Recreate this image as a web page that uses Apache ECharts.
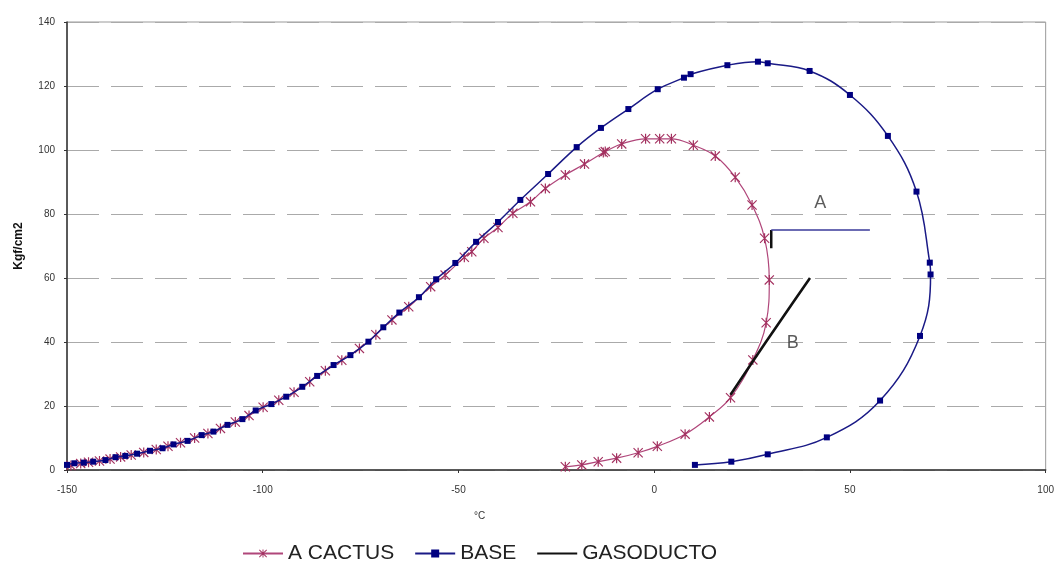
<!DOCTYPE html>
<html>
<head>
<meta charset="utf-8">
<title>Kgf/cm2 vs °C</title>
<script src="https://cdn.jsdelivr.net/npm/echarts@6/dist/echarts.min.js"></script>
<style>
    html, body { margin: 0; padding: 0; background: #fff; }
    #chart { width: 1057px; height: 563px; }
</style>
</head>
<body>
<div id="chart"></div>
<script>
// puntos [°C, Kgf/cm2]
var cactusPoints = [
    [-149, 1.4], [-146.5, 2.0], [-144.5, 2.4], [-141.7, 2.8], [-139, 3.4], [-136.3, 4.1],
    [-133.6, 4.7], [-130.4, 5.5], [-127.2, 6.4], [-124.2, 7.4], [-121, 8.5], [-117.4, 10],
    [-114, 11.4], [-110.8, 13], [-107, 15], [-103.5, 17], [-99.9, 19.6], [-95.9, 21.8],
    [-92, 24.3], [-88, 27.6], [-84, 31], [-79.8, 34.3], [-75.3, 38], [-71.1, 42.3],
    [-67, 46.9], [-62.7, 51], [-57.1, 57.3], [-53.4, 60.9], [-48.5, 66.5], [-46.6, 68.2],
    [-43.5, 72.4], [-39.9, 75.8], [-36.1, 80.2], [-31.6, 83.8], [-27.8, 88], [-22.7, 92.2],
    [-17.8, 95.6], [-13, 99.2], [-12.5, 99.5], [-8.3, 101.9], [-2.2, 103.5], [1.4, 103.5],
    [4.4, 103.5], [10, 101.5], [15.6, 98.1], [20.7, 91.5], [25, 82.8], [28.2, 72.4],
    [29.4, 59.4], [28.6, 46], [25.2, 34.4], [19.5, 22.6], [14.1, 16.6], [7.9, 11.2],
    [0.8, 7.4], [-4.1, 5.4], [-9.6, 3.7], [-14.3, 2.6], [-18.5, 1.6], [-22.7, 1.0]
];
var basePoints = [
    [-150, 1.6], [-148.1, 2.1], [-145.7, 2.3], [-143.3, 2.6], [-140.2, 3.1], [-137.6, 4.0],
    [-135.1, 4.4], [-132.1, 5.1], [-128.8, 6.0], [-125.6, 6.8], [-122.8, 8.0], [-119.2, 9.1],
    [-115.6, 10.9], [-112.6, 12.0], [-109, 14.1], [-105.2, 15.9], [-101.8, 18.6], [-97.8, 20.6],
    [-94, 22.9], [-89.9, 26], [-86.1, 29.4], [-81.9, 32.8], [-77.6, 35.9], [-73, 40.1],
    [-69.2, 44.6], [-65.1, 49.2], [-60.1, 54], [-55.7, 59.6], [-50.8, 64.7], [-45.5, 71.3],
    [-39.9, 77.5], [-34.2, 84.4], [-27.1, 92.5], [-19.8, 100.9], [-13.6, 106.9], [-6.6, 112.8],
    [0.9, 119], [7.6, 122.6], [9.3, 123.7], [18.7, 126.5], [26.5, 127.6], [29, 127.1],
    [39.7, 124.7], [50, 117.2], [59.7, 104.4], [67, 87], [70.4, 64.8], [70.6, 61.1],
    [67.9, 41.9], [57.7, 21.7], [44.1, 10.2], [29, 4.9], [19.7, 2.6], [10.4, 1.6]
];
var gasoductoPoints = [[19.5, 23.5], [25, 33.6], [32, 46.2], [39.8, 60]];
var markAVertical = [[29.9, 69.3], [29.9, 75]];
var markAHorizontal = [[29.9, 75], [55.1, 75]];
var notes = [
    {name: 'A', value: [42.4, 83.4]},
    {name: 'B', value: [35.4, 39.7]}
];
var seriesNames = ['A CACTUS', 'BASE', 'GASODUCTO'];
var xTicks = {min: -150, max: 100, step: 50};
var yTicks = {min: 0, max: 140, step: 20};

// asterisco tipo excel
var asterisk = 'path://M4.4 0 L5.6 0 L5.6 10 L4.4 10 Z M0 0.8 L0.8 0 L10 9.2 L9.2 10 Z M9.2 0 L10 0.8 L0.8 10 L0 9.2 Z';

var pink = '#b0467a';
var navy = '#1a1a86';

var chart = echarts.init(document.getElementById('chart'));
var option = {
    animation: false,
    backgroundColor: '#fff',
    textStyle: {fontFamily: 'Liberation Sans, Arial, sans-serif'},
    grid: {
        left: 67,
        right: 9,
        top: 22,
        bottom: 93,
        show: true,
        borderColor: '#9a9a9a',
        borderWidth: 1
    },
    legend: {
        data: [
            seriesNames[0],
            seriesNames[1],
            {name: seriesNames[2], itemStyle: {opacity: 0}}
        ],
        left: 237,
        top: 538,
        itemWidth: 40,
        itemHeight: 10,
        itemGap: 20,
        selectedMode: false,
        textStyle: {fontSize: 21, color: '#222'}
    },
    xAxis: {
        type: 'value',
        min: xTicks.min,
        max: xTicks.max,
        interval: xTicks.step,
        axisLine: {onZero: false, lineStyle: {color: '#333', width: 1.5}},
        axisTick: {show: true, length: 3, lineStyle: {color: '#333'}},
        axisLabel: {fontSize: 10, color: '#333', margin: 15},
        splitLine: {show: false}
    },
    yAxis: {
        type: 'value',
        min: yTicks.min,
        max: yTicks.max,
        interval: yTicks.step,
        name: 'Kgf/cm2',
        nameLocation: 'middle',
        nameRotate: 90,
        nameGap: 42,
        nameTextStyle: {fontSize: 12, fontWeight: 'bold', color: '#111'},
        axisLine: {show: true, onZero: false, lineStyle: {color: '#333', width: 1.5}},
        axisTick: {show: true, length: 3, lineStyle: {color: '#333'}},
        axisLabel: {fontSize: 10, color: '#333', margin: 12},
        splitLine: {show: true, lineStyle: {color: '#aaa', width: 1, type: [32, 12]}}
    },
    graphic: [{
        type: 'text',
        left: 474,
        top: 511,
        style: {text: '°C', fontSize: 10, fill: '#333', fontFamily: 'Liberation Sans, Arial'}
    }],
    series: [{
        name: seriesNames[0],
        type: 'line',
        smooth: 0.4,
        data: cactusPoints,
        symbol: asterisk,
        symbolSize: 10,
        itemStyle: {color: '#a3305f'},
        lineStyle: {color: pink, width: 1.2},
        silent: true,
        z: 3
    }, {
        name: seriesNames[1],
        type: 'line',
        smooth: 0.4,
        data: basePoints,
        symbol: 'rect',
        symbolSize: 6,
        itemStyle: {color: '#000080'},
        lineStyle: {color: navy, width: 1.5},
        silent: true,
        z: 4
    }, {
        name: seriesNames[2],
        type: 'line',
        data: gasoductoPoints,
        symbol: 'none',
        smooth: 0.3,
        lineStyle: {color: '#111', width: 2.6},
        itemStyle: {color: '#111'},
        silent: true,
        z: 5
    }, {
        name: 'marcaA1',
        type: 'line',
        data: markAVertical,
        symbol: 'none',
        lineStyle: {color: '#111', width: 2.5},
        silent: true,
        z: 5
    }, {
        name: 'marcaA2',
        type: 'line',
        data: markAHorizontal,
        symbol: 'none',
        lineStyle: {color: '#3a3a9a', width: 1.5},
        silent: true,
        z: 5
    }, {
        name: 'notas',
        type: 'scatter',
        data: notes,
        symbolSize: 0,
        silent: true,
        label: {
            show: true,
            position: 'inside',
            formatter: '{b}',
            fontSize: 18,
            color: '#333'
        },
        z: 6
    }]
};
chart.setOption(option);
</script>
</body>
</html>
